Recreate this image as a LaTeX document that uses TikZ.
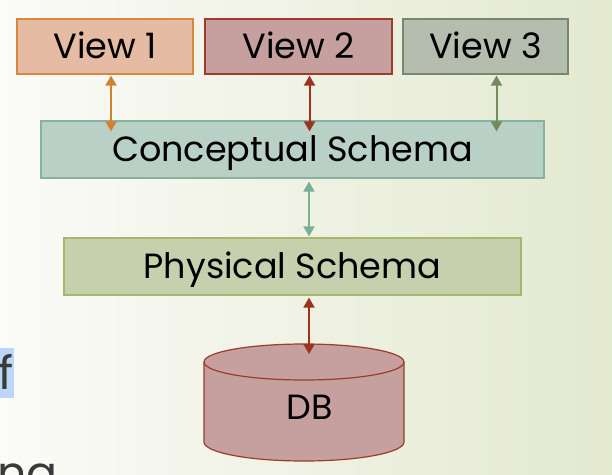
\documentclass[tikz,border=0pt]{standalone}
\usepackage{fontspec}
\setmainfont{Poppins}
\usetikzlibrary{arrows.meta,calc}
\definecolor{bgL}{HTML}{FBFBF8}
\definecolor{bgR}{HTML}{E3E9CF}
\definecolor{vOneF}{HTML}{E5BBA4}
\definecolor{vOneD}{HTML}{D8883A}
\definecolor{vOneA}{HTML}{D4812F}
\definecolor{vTwoF}{HTML}{C5A09F}
\definecolor{vTwoD}{HTML}{9E3B2A}
\definecolor{vTwoA}{HTML}{9A3420}
\definecolor{vThrF}{HTML}{B5BEAE}
\definecolor{vThrD}{HTML}{76876A}
\definecolor{vThrA}{HTML}{76885E}
\definecolor{csF}{HTML}{B9D0C6}
\definecolor{csD}{HTML}{86B3A0}
\definecolor{csA}{HTML}{7AAE98}
\definecolor{psF}{HTML}{C6D0AD}
\definecolor{psD}{HTML}{A5B86C}
\definecolor{hl}{HTML}{BCD6F7}
\definecolor{txtgray}{HTML}{3A3A3A}
\tikzset{
  boxnode/.style={draw, line width=1.2pt, inner sep=0pt, text height=24.5pt, text depth=0pt, font=\fontsize{35}{40}\selectfont, text=black},
  dbl/.style={line width=2pt, {Triangle[length=10pt,width=11pt]}-{Triangle[length=10pt,width=11pt]}},
}
\begin{document}
\begin{tikzpicture}[x=1pt,y=-1pt]
\useasboundingbox (0,0) rectangle (612,474);
\clip (0,0) rectangle (612,474);
\shade[left color=bgL, right color=bgR] (0,0) rectangle (612,474);
% left fragments
\fill[hl] (0,348) rectangle (14,398);
\node[anchor=base east, inner sep=0pt, text=txtgray, font=\fontsize{46}{50}\selectfont] (ftxt) at (14,389) {f};
\node[anchor=base west, inner sep=0pt, text=txtgray, font=\fontsize{46}{50}\selectfont] (natxt) at (-3,489) {na};
% boxes
\node[boxnode, fill=vOneF, draw=vOneD, minimum width=176pt, minimum height=55pt] (v1) at (105,46.5) {View 1};
\node[boxnode, fill=vTwoF, draw=vTwoD, minimum width=187pt, minimum height=55pt] (v2) at (298.5,46.5) {View 2};
\node[boxnode, fill=vThrF, draw=vThrD, minimum width=165pt, minimum height=55pt] (v3) at (485.5,46.5) {View 3};
\node[boxnode, fill=csF, draw=csD, minimum width=503pt, minimum height=57pt] (cs) at (292.5,149.5) {Conceptual Schema};
\node[boxnode, fill=psF, draw=psD, minimum width=457pt, minimum height=57pt] (ps) at (292.5,266.5) {Physical Schema};
% DB cylinder
\filldraw[fill=vTwoF, draw=vTwoD, line width=1.2pt]
  (204,362) -- (204,442) arc[start angle=180, end angle=360, x radius=100, y radius=-19] -- (404,362)
  arc[start angle=0, end angle=180, x radius=100, y radius=-18] -- cycle;
\draw[vTwoD, line width=1.2pt] (204,362) arc[start angle=180, end angle=360, x radius=100, y radius=-18];
\node[inner sep=0pt, text height=24.5pt, text depth=0pt, font=\fontsize{35}{40}\selectfont] (db) at (310,407) {DB};
\coordinate (dbtop) at (309,354);
% arrows
\draw[dbl, vOneA, shorten <=1pt, shorten >=-11pt] ([xshift=6pt]v1.south) -- ([xshift=6pt]v1.south |- cs.north);
\draw[dbl, vTwoA, shorten <=1pt, shorten >=-11pt] ([xshift=11pt]v2.south) -- ([xshift=11pt]v2.south |- cs.north);
\draw[dbl, vThrA, shorten <=1pt, shorten >=-11pt] ([xshift=11pt]v3.south) -- ([xshift=11pt]v3.south |- cs.north);
\draw[dbl, csA, shorten <=3pt, shorten >=1pt] (cs.south -| dbtop) -- (ps.north -| dbtop);
\draw[dbl, vTwoA, shorten <=2pt] (ps.south -| dbtop) -- (dbtop);
\end{tikzpicture}
\end{document}
